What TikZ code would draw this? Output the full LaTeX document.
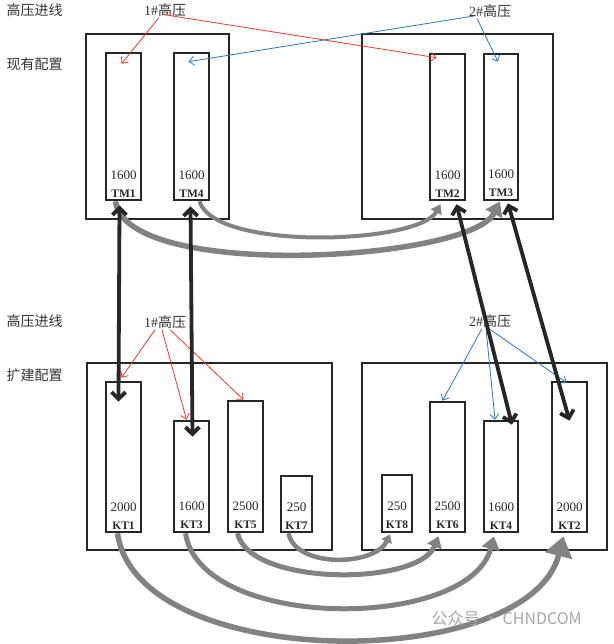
\documentclass[tikz,border=0pt]{standalone}
\usepackage{fontspec}
\setmainfont{Liberation Serif}
\newfontfamily\cjk{Noto Sans CJK SC}
\usepackage{xcolor}
\usetikzlibrary{arrows.meta}

\definecolor{hvred}{RGB}{232,58,44}
\definecolor{hvblue}{RGB}{46,117,192}
\definecolor{frameblk}{RGB}{38,38,38}
\definecolor{arcgray}{RGB}{130,130,130}

\begin{document}
\begin{tikzpicture}[
    x=1pt, y=-1pt,
    font=\fontsize{13}{15}\selectfont,
    frame/.style={draw=frameblk, line width=2.6pt, inner sep=0pt},
    bar/.style={frame, minimum width=35pt},
    rating/.style={anchor=south, align=center, inner sep=0pt, yshift=4pt,
      font=\fontsize{13}{18}\selectfont, text=black!85},
    side/.style={anchor=west, font=\cjk\fontsize{14}{16}\selectfont, text=black!80},
    hv/.style={font=\fontsize{14}{16}\selectfont, text=black!80, inner sep=1pt},
    feedr/.style={-{Straight Barb[length=5pt, width=9pt]}, hvred, line width=0.8pt},
    feedb/.style={-{Straight Barb[length=5pt, width=9pt]}, hvblue, line width=0.8pt},
    link/.style={{Straight Barb[length=7pt, width=14pt]}-{Straight Barb[length=7pt, width=14pt]},
      frameblk, line width=3.8pt},
    move/.style n args={3}{arcgray, line width=#1, -{Triangle[length=#2, width=#3]}},
    wmark/.style={anchor=west, font=\cjk\fontsize{16}{18}\selectfont, text=black!35},
  ]
    \useasboundingbox (0,0) rectangle (613,644);
    % Row labels
    \node[side] (inA)  at (3,10)  {\cjk 高压进线};
    \node[side] (now)  at (3,64)  {\cjk 现有配置};
    \node[side] (inB)  at (3,321) {\cjk 高压进线};
    \node[side] (ext)  at (3,375) {\cjk 扩建配置};
    \node[hv]   (hv1a) at (165,10)  {1\#{\cjk 高压}};
    \node[hv]   (hv2a) at (490,11)  {2\#{\cjk 高压}};
    \node[hv]   (hv1b) at (165,322) {1\#{\cjk 高压}};
    \node[hv]   (hv2b) at (490,321) {2\#{\cjk 高压}};
    % Existing rooms
    \node[frame, minimum width=143pt, minimum height=185pt] (roomA) at (157.5,126.5) {};
    \node[frame, minimum width=191pt, minimum height=185pt] (roomB) at (457.5,126.5) {};
    \node[bar, minimum height=147pt] (tm1) at (123.5,126.5) {};
    \node[bar, minimum height=147pt] (tm4) at (191.5,126.5) {};
    \node[bar, minimum height=146pt] (tm2) at (447.5,127) {};
    \node[bar, minimum height=146pt, minimum width=34pt] (tm3) at (501,127) {};
    \node[rating] (tm1t) at (tm1.south) {1600\\{\bfseries\fontsize{11.5}{18}\selectfont TM1}};
    \node[rating] (tm4t) at (tm4.south) {1600\\{\bfseries\fontsize{11.5}{18}\selectfont TM4}};
    \node[rating] (tm2t) at (tm2.south) {1600\\{\bfseries\fontsize{11.5}{18}\selectfont TM2}};
    \node[rating] (tm3t) at (tm3.south) {1600\\{\bfseries\fontsize{11.5}{18}\selectfont TM3}};
    % Extended rooms
    \node[frame, minimum width=245pt, minimum height=187pt] (roomC) at (209.5,456.5) {};
    \node[frame, minimum width=245pt, minimum height=187pt] (roomD) at (484.5,456.5) {};
    \node[bar, minimum height=150pt] (kt1) at (123.5,457) {};
    \node[bar, minimum height=111pt] (kt3) at (191.5,476.5) {};
    \node[bar, minimum height=131pt] (kt5) at (245.5,466.5) {};
    \node[bar, minimum height=56pt, minimum width=31pt] (kt7) at (296.5,504) {};
    \node[bar, minimum height=57pt, minimum width=30pt] (kt8) at (397,503.5) {};
    \node[bar, minimum height=130pt] (kt6) at (447.5,467) {};
    \node[bar, minimum height=111pt, minimum width=34pt] (kt4) at (501,476.5) {};
    \node[bar, minimum height=150pt] (kt2) at (569.5,457) {};
    \node[rating] (kt1t) at (kt1.south) {2000\\{\bfseries\fontsize{11.5}{18}\selectfont KT1}};
    \node[rating] (kt3t) at (kt3.south) {1600\\{\bfseries\fontsize{11.5}{18}\selectfont KT3}};
    \node[rating] (kt5t) at (kt5.south) {2500\\{\bfseries\fontsize{11.5}{18}\selectfont KT5}};
    \node[rating] (kt7t) at (kt7.south) {250\\{\bfseries\fontsize{11.5}{18}\selectfont KT7}};
    \node[rating] (kt8t) at (kt8.south) {250\\{\bfseries\fontsize{11.5}{18}\selectfont KT8}};
    \node[rating] (kt6t) at (kt6.south) {2500\\{\bfseries\fontsize{11.5}{18}\selectfont KT6}};
    \node[rating] (kt4t) at (kt4.south) {1600\\{\bfseries\fontsize{11.5}{18}\selectfont KT4}};
    \node[rating] (kt2t) at (kt2.south) {2000\\{\bfseries\fontsize{11.5}{18}\selectfont KT2}};
    % HV feeders
    \draw[feedr] ([xshift=-6pt]hv1a.south) -- ([xshift=-2pt,yshift=-12pt]tm1.north);
    \draw[feedr] ([xshift=-1pt,yshift=3pt]hv1a.south) -- ([xshift=-11pt,yshift=-5pt]tm2.north);
    \draw[feedb] ([xshift=-14pt,yshift=3pt]hv2a.south) -- ([xshift=-3pt,yshift=-10pt]tm4.north);
    \draw[feedb] ([xshift=-13pt]hv2a.south) -- ([xshift=-3pt,yshift=-9pt]tm3.north);
    \draw[feedr] ([xshift=-10pt]hv1b.south) -- ([xshift=-2pt,yshift=3pt]kt1.north);
    \draw[feedr] ([xshift=-3pt]hv1b.south) -- ([xshift=-5pt]kt3.north);
    \draw[feedr] ([xshift=5pt]hv1b.south) -- ([xshift=-2pt]kt5.north);
    \draw[feedb] ([xshift=-8pt]hv2b.south) -- ([xshift=-5pt]kt6.north);
    \draw[feedb] ([xshift=-4pt]hv2b.south) -- ([xshift=-6pt]kt4.north);
    \draw[feedb] ([xshift=-1pt]hv2b.south) -- ([xshift=-3pt,yshift=-2pt]kt2.north);
    % Load transfer arcs
    \draw[move={5.5pt}{14pt}{18pt}] ([xshift=-8pt]tm1.south)
      .. controls +(10,80) and +(-30,60) .. ([xshift=-1pt]tm3.south);
    \draw[move={4pt}{9pt}{12pt}] ([xshift=8pt]tm4.south)
      .. controls +(15,50) and +(-22,40) .. ([xshift=-7pt,yshift=-3pt]tm2.south);
    \draw[move={5.5pt}{20pt}{27pt}] ([xshift=-6pt]kt1.south)
      .. controls +(20,140) and +(-35,137) .. ([xshift=-6pt,yshift=-3pt]kt2.south);
    \draw[move={5pt}{13pt}{18pt}] ([xshift=-6pt]kt3.south)
      .. controls +(15,98) and +(-25,95) .. ([xshift=-7pt,yshift=-3pt]kt4.south);
    \draw[move={5pt}{11pt}{15pt}] ([xshift=-8pt]kt5.south)
      .. controls +(12,53) and +(-20,50) .. ([xshift=-9pt,yshift=-3pt]kt6.south);
    \draw[move={4.5pt}{8pt}{11pt}] ([xshift=-8pt]kt7.south)
      .. controls +(7,35) and +(-15,32) .. ([xshift=-7pt,yshift=-1pt]kt8.south);
    % Moved transformers
    \draw[link] ([xshift=-4pt,yshift=-4pt]tm1.south) -- ([xshift=-5pt,yshift=-21pt]kt1.north);
    \draw[link] ([xshift=-1pt,yshift=-5pt]tm4.south) -- ([xshift=1pt,yshift=-17pt]kt3.north);
    \draw[link] ([xshift=9pt,yshift=-3pt]tm2.south) -- ([xshift=11pt,yshift=-5pt]kt4.north);
    \draw[link] ([xshift=7pt,yshift=-2pt]tm3.south) -- ([yshift=-40pt]kt2.north);
    \node[wmark] (wm) at (428,618) {公众号 · CHNDCOM};
\end{tikzpicture}
\end{document}
